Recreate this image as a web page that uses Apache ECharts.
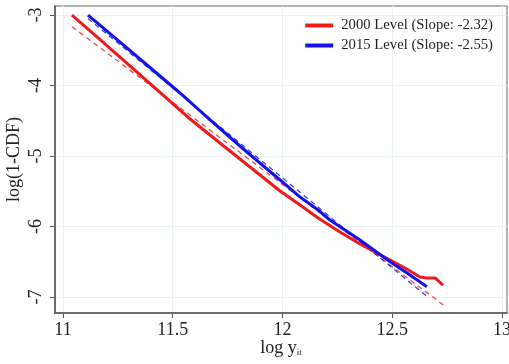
<!DOCTYPE html>
<html><head><meta charset="utf-8">
<script src="https://cdn.jsdelivr.net/npm/echarts@6/dist/echarts.min.js"></script>
<style>html,body{margin:0;padding:0;background:#fff}#c{width:509px;height:364px}</style>
</head><body><div id="c"></div>
<script>
const xTicks = [11, 11.5, 12, 12.5, 13];
const yTicks = [-7, -6, -5, -4, -3];
const red2000 = [[11.041,-3.000],[11.169,-3.348],[11.305,-3.723],[11.442,-4.099],[11.579,-4.475],[11.715,-4.816],[11.852,-5.156],[11.989,-5.496],[12.080,-5.695],[12.162,-5.879],[12.262,-6.078],[12.353,-6.248],[12.490,-6.475],[12.558,-6.589],[12.626,-6.716],[12.658,-6.730],[12.695,-6.730],[12.731,-6.830]];
const blue2015 = [[11.114,-3.000],[11.260,-3.383],[11.383,-3.709],[11.533,-4.106],[11.670,-4.489],[11.806,-4.858],[11.897,-5.099],[11.989,-5.340],[12.080,-5.582],[12.162,-5.766],[12.216,-5.908],[12.353,-6.191],[12.490,-6.499],[12.581,-6.688],[12.658,-6.854]];
const redFit = [[11.041,-3.166],[12.733,-7.113]];
const blueFit = [[11.114,-3.05],[12.658,-6.99]];
const names = ['2000 Level (Slope: -2.32)', '2015 Level (Slope: -2.55)'];
const RED = '#f01a1a', BLUE = '#1212e6';
const F = 'Liberation Serif, Times New Roman, serif';
const chart = echarts.init(document.getElementById('c'));
chart.setOption({
  animation: false,
  backgroundColor: '#fff',
  grid: {left: 55, top: 6, right: 2, bottom: 51, outerBoundsMode: 'none', containLabel: false, show: true, borderColor: '#9a9a9a', borderWidth: 1.5, backgroundColor: '#fff'},
  legend: {
    data: names, right: 11, top: 13, orient: 'vertical', icon: 'rect', itemWidth: 28, itemHeight: 4, itemGap: 5,
    textStyle: {fontFamily: F, fontSize: 14.7, color: '#222', padding: [0, 0, 0, 3]}
  },
  xAxis: {
    type: 'value', min: 10.9636, max: 13.0228,
    axisLine: {lineStyle: {color: '#555', width: 1.5}},
    axisTick: {show: true, customValues: xTicks, length: 5, lineStyle: {color: '#555'}},
    axisLabel: {customValues: xTicks, fontFamily: F, fontSize: 18, color: '#222', margin: 8},
    splitLine: {show: true, lineStyle: {color: '#e8f0f4', width: 1}},
    name: 'log y{s|it}', nameLocation: 'middle', nameGap: 26, nameMoveOverlap: false,
    nameTextStyle: {fontFamily: F, fontSize: 18, color: '#222', rich: {s: {fontFamily: F, fontSize: 9, verticalAlign: 'bottom', padding: [8,0,0,0]}}}
  },
  yAxis: {
    type: 'value', min: -7.227, max: -2.872,
    axisLine: {show: true, lineStyle: {color: '#555', width: 1.5}},
    axisTick: {show: true, customValues: yTicks, length: 5, lineStyle: {color: '#555'}},
    axisLabel: {customValues: yTicks, rotate: 90, fontFamily: F, fontSize: 18, color: '#222', margin: 10},
    splitLine: {show: true, lineStyle: {color: '#e8f0f4', width: 1}},
    name: 'log(1-CDF)', nameLocation: 'middle', nameRotate: 90, nameGap: 32, nameMoveOverlap: false,
    nameTextStyle: {fontFamily: F, fontSize: 18, color: '#222'}
  },
  series: [
    {name: 'fit2000', type: 'line', data: redFit, symbol: 'none', z: 1, lineStyle: {color: RED, width: 1.3, type: [5, 4], opacity: 0.8}},
    {name: 'fit2015', type: 'line', data: blueFit, symbol: 'none', z: 1, lineStyle: {color: BLUE, width: 1.3, type: [5, 4], opacity: 0.8}},
    {name: names[0], type: 'line', data: red2000, symbol: 'none', itemStyle: {color: RED}, lineStyle: {color: RED, width: 3}},
    {name: names[1], type: 'line', data: blue2015, symbol: 'none', itemStyle: {color: BLUE}, lineStyle: {color: BLUE, width: 3}}
  ]
});
</script></body></html>
